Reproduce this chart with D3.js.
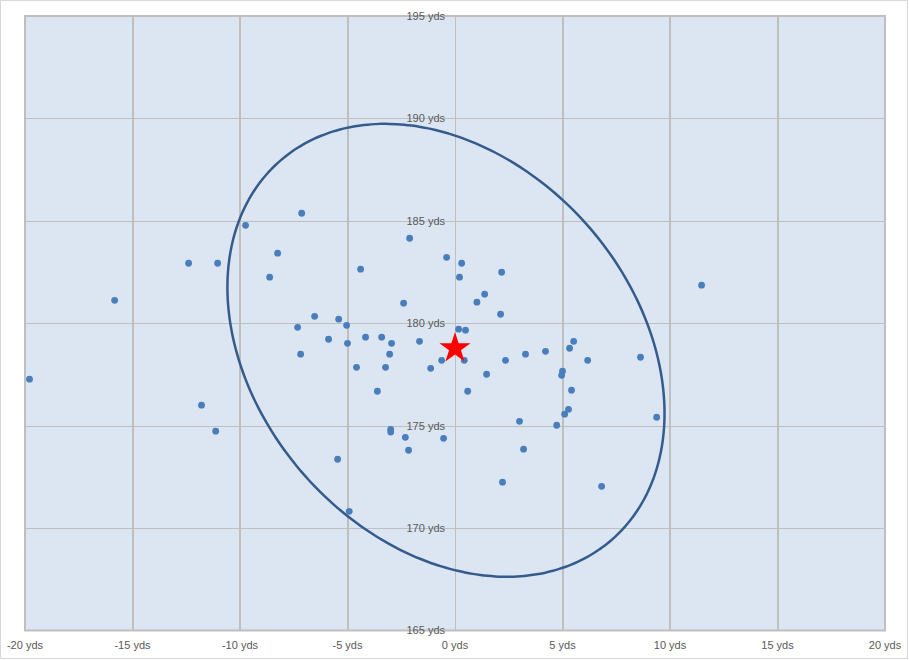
<!DOCTYPE html>
<html>
<head>
<meta charset="utf-8">
<script src="https://cdn.jsdelivr.net/npm/d3@7"></script>
<style>
html,body{margin:0;padding:0;background:#fff;}
svg{display:block;}
text{font-family:"Liberation Sans",Arial,sans-serif;font-size:11px;fill:#595959;}
</style>
</head>
<body>
<svg id="chart" width="909" height="660"></svg>
<script>
// Shot positions: lateral offset (yds) and carry distance (yds)
const shotX = [-7.13,-9.74,-8.25,-12.39,-11.04,-8.62,-15.83,-2.11,-0.39,-4.39,
  -2.39,-6.53,-5.41,-5.04,-7.32,-5.88,-4.16,-3.41,-1.65,0.21,
  0.31,2.17,1.38,1.02,2.12,11.47,0.17,0.49,-19.79,-11.79,
  -11.13,-5.46,-4.92,-5.00,-2.95,-7.18,-3.04,-4.58,-3.23,-1.13,
  -0.62,-3.61,-2.99,-2.99,-2.31,-2.16,-0.53,0.43,0.59,1.47,
  2.35,3.28,4.21,5.33,5.52,6.17,5.00,4.96,5.42,5.28,
  5.10,4.73,3.00,3.19,2.21,6.82,8.63,9.38];
const shotY = [185.37,184.78,183.42,182.93,182.93,182.25,181.12,184.15,183.22,182.64,
  180.98,180.34,180.20,179.90,179.80,179.22,179.32,179.32,179.12,182.25,
  182.93,182.49,181.42,181.03,180.44,181.86,179.71,179.66,177.27,176.00,
  174.73,173.36,170.82,179.02,179.02,178.49,178.49,177.85,177.85,177.80,
  178.19,176.68,174.82,174.69,174.43,173.80,174.38,178.19,176.68,177.51,
  178.19,178.49,178.63,178.78,179.12,178.19,177.66,177.46,176.73,175.80,
  175.56,175.02,175.21,173.85,172.24,172.04,178.34,175.41];
// Target / average marker
const targetPoint = [0, 178.78];
// Dispersion ellipse: centre, semi-axes (yds), rotation (deg)
const ellipseCenter = [-0.42, 178.68];
const ellipseRadii = [12.06, 8.95];
const ellipseAngle = -53.4;
// Axes
const xTicks = [-20,-15,-10,-5,0,5,10,15,20];
const yTicks = [165,170,175,180,185,190,195];
const xDomain = [-20, 20];
const yDomain = [165, 195];

const svg = d3.select("#chart");
const L = 25, R = 885, T = 16, B = 630.5;
const x = d3.scaleLinear().domain(xDomain).range([L, R]);
const y = d3.scaleLinear().domain(yDomain).range([B, T]);

// outer chart border
svg.append("rect").attr("x",0.5).attr("y",0.5).attr("width",907).attr("height",658)
  .attr("fill","#fff").attr("stroke","#d9d9d9").attr("stroke-width",1);

// plot background
svg.append("rect").attr("x",L).attr("y",T).attr("width",R-L).attr("height",B-T)
  .attr("fill","#dce6f2");

// horizontal gridlines
svg.append("g").selectAll("line").data(yTicks.filter(d=>d!==165 && d!==195)).join("line")
  .attr("x1",L).attr("x2",R).attr("y1",d=>Math.round(y(d))+0.5).attr("y2",d=>Math.round(y(d))+0.5)
  .attr("stroke","#bfbfbf").attr("stroke-width",1);
// vertical gridlines
svg.append("g").selectAll("line").data(xTicks.filter(d=>d!==-20 && d!==20 && d!==0)).join("line")
  .attr("y1",T).attr("y2",B).attr("x1",d=>Math.round(x(d))).attr("x2",d=>Math.round(x(d)))
  .attr("stroke","#bfbfbf").attr("stroke-width",2);
// vertical axis at 0
svg.append("line").attr("x1",Math.round(x(0))+0.5).attr("x2",Math.round(x(0))+0.5)
  .attr("y1",T).attr("y2",B).attr("stroke","#bfbfbf").attr("stroke-width",1);

// plot border
svg.append("rect").attr("x",L).attr("y",T).attr("width",R-L).attr("height",B-T)
  .attr("fill","none").attr("stroke","#bfbfbf").attr("stroke-width",2);

// y labels (at the x=0 axis)
svg.append("g").selectAll("text").data(yTicks).join("text")
  .attr("x",x(0)-10).attr("y",d=>y(d)).attr("dy","0.35em").attr("text-anchor","end")
  .text(d=>d+" yds");
// x labels
svg.append("g").selectAll("text").data(xTicks).join("text")
  .attr("x",d=>x(d)).attr("y",645).attr("dy","0.35em").attr("text-anchor","middle")
  .text(d=>d+" yds");

// ellipse
const th = ellipseAngle*Math.PI/180;
const ePts = d3.range(0, 361, 2).map(a=>{
  const t = a*Math.PI/180;
  const ex = ellipseRadii[0]*Math.cos(t), ey = ellipseRadii[1]*Math.sin(t);
  return [ellipseCenter[0] + ex*Math.cos(th) - ey*Math.sin(th),
          ellipseCenter[1] + ex*Math.sin(th) + ey*Math.cos(th)];
});
svg.append("path").datum(ePts)
  .attr("d", d3.line().x(d=>x(d[0])).y(d=>y(d[1])).curve(d3.curveCardinalClosed))
  .attr("fill","none").attr("stroke","#355b8c").attr("stroke-width",2.5);

// shots
svg.append("g").selectAll("circle").data(shotX.map((v,i)=>[v,shotY[i]])).join("circle")
  .attr("cx",d=>x(d[0])).attr("cy",d=>y(d[1])).attr("r",3.4).attr("fill","#4a7ebb");

// star
svg.append("path")
  .attr("d", d3.symbol().type(d3.symbolStar).size(300)())
  .attr("transform",`translate(${x(targetPoint[0])},${y(targetPoint[1])})`)
  .attr("fill","#ff0000");
</script>
</body>
</html>
